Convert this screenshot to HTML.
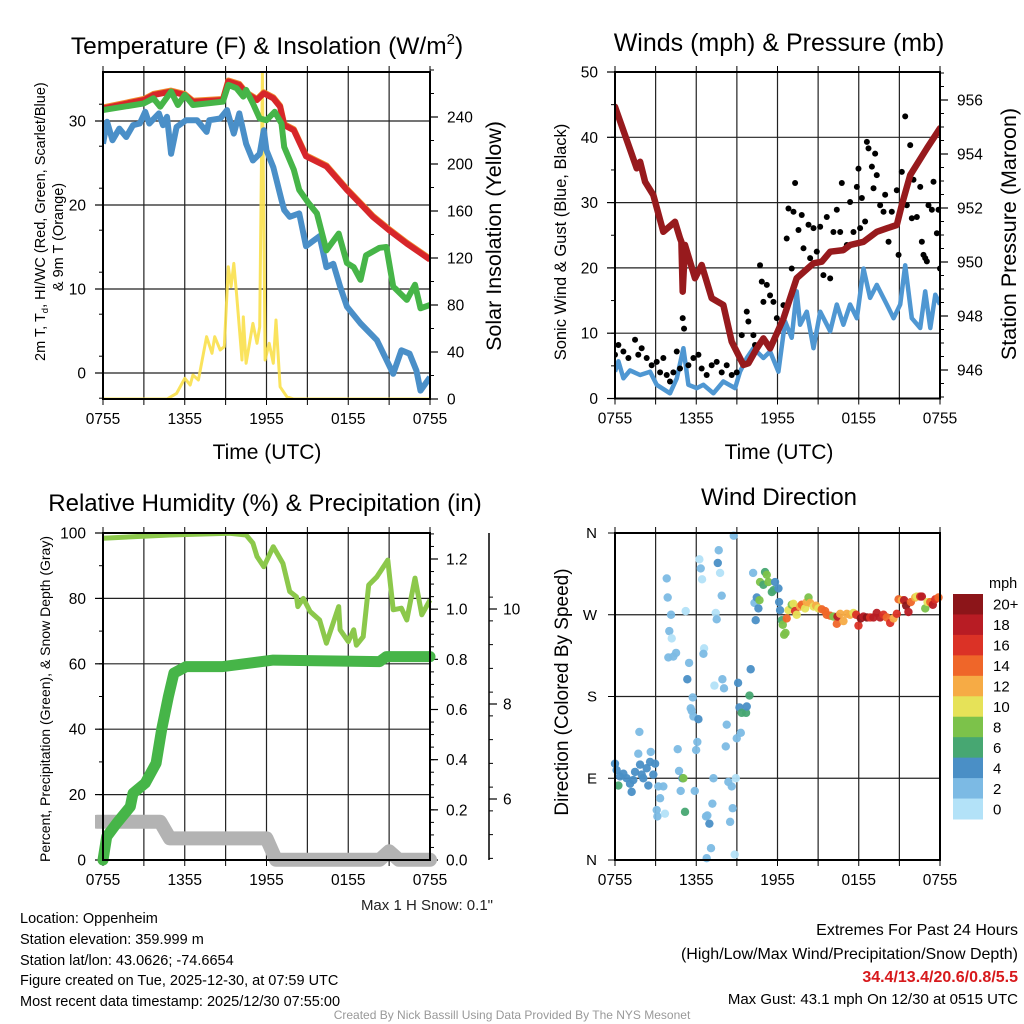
<!DOCTYPE html>
<html><head><meta charset="utf-8"><style>
html,body{margin:0;padding:0;background:#fff;}
svg{display:block;font-family:"Liberation Sans",Arial,sans-serif;}
</style></head><body>
<svg id="chart" width="1024" height="1024" viewBox="0 0 1024 1024" xmlns="http://www.w3.org/2000/svg">
<rect x="0" y="0" width="1024" height="1024" fill="#fff"/>
<g id="layer"></g>
<!-- titles -->
<text x="267" y="54" font-size="24.5" text-anchor="middle">Temperature (F) &amp; Insolation (W/m<tspan dy="-10" font-size="15">2</tspan><tspan dy="10">)</tspan></text>
<text x="779" y="51" font-size="25" text-anchor="middle">Winds (mph) &amp; Pressure (mb)</text>
<text x="265" y="511" font-size="24" text-anchor="middle">Relative Humidity (%) &amp; Precipitation (in)</text>
<text x="779" y="505" font-size="24" text-anchor="middle">Wind Direction</text>
<text x="267" y="459" font-size="21" text-anchor="middle">Time (UTC)</text>
<text x="779" y="459" font-size="21" text-anchor="middle">Time (UTC)</text>
<text transform="translate(45,361) rotate(-90)" font-size="14.5" text-anchor="start">2m T, T<tspan font-size="9.5" dy="3">d</tspan><tspan dy="-3">, HI/WC (Red, Green, Scarlet/Blue)</tspan></text>
<text transform="translate(63,237) rotate(-90)" font-size="14.5" text-anchor="middle">&amp; 9m T (Orange)</text>
<text transform="translate(501,236) rotate(-90)" font-size="21.5" text-anchor="middle">Solar Insolation (Yellow)</text>
<text transform="translate(566,242) rotate(-90)" font-size="16.5" text-anchor="middle">Sonic Wind &amp; Gust (Blue, Black)</text>
<text transform="translate(1016,234) rotate(-90)" font-size="21.5" text-anchor="middle">Station Pressure (Maroon)</text>
<text transform="translate(50,699) rotate(-90)" font-size="14" text-anchor="middle">Percent, Precipitation (Green), &amp; Snow Depth (Gray)</text>
<text transform="translate(568,692) rotate(-90)" font-size="19" text-anchor="middle">Direction (Colored By Speed)</text>
<text x="493" y="910" font-size="15" text-anchor="end" fill="#222">Max 1 H Snow: 0.1"</text>
<g font-size="14.5" fill="#000">
<text x="20" y="923">Location: Oppenheim</text>
<text x="20" y="944">Station elevation: 359.999 m</text>
<text x="20" y="965">Station lat/lon: 43.0626; -74.6654</text>
<text x="20" y="985">Figure created on Tue, 2025-12-30, at 07:59 UTC</text>
<text x="20" y="1006">Most recent data timestamp: 2025/12/30 07:55:00</text>
</g>
<g text-anchor="end">
<text x="1018" y="935" font-size="16">Extremes For Past 24 Hours</text>
<text x="1018" y="959" font-size="16">(High/Low/Max Wind/Precipitation/Snow Depth)</text>
<text x="1018" y="982" font-size="16" font-weight="bold" fill="#d7191c">34.4/13.4/20.6/0.8/5.5</text>
<text x="1018" y="1004" font-size="15">Max Gust: 43.1 mph On 12/30 at 0515 UTC</text>
</g>
<text x="512" y="1019" font-size="12" fill="#999" text-anchor="middle">Created By Nick Bassill Using Data Provided By The NYS Mesonet</text>
</svg>
<script>
// ---------- DATA ----------
const xTickLabels = ["0755","1355","1955","0155","0755"];
const tempTickLabels = [0,10,20,30];
const solarTickLabels = [0,40,80,120,160,200,240];
const windTickLabels = [0,10,20,30,40,50];
const presTickLabels = [946,948,950,952,954,956];
const pctTickLabels = [0,20,40,60,80,100];
const precipTickLabels = ["0.0","0.2","0.4","0.6","0.8","1.0","1.2"];
const snowTickLabels = [6,8,10];
const dirTickLabels = ["N","E","S","W","N"];
const speedBinLabels = ["20+","18","16","14","12","10","8","6","4","2","0"];

const redHours = [0,3,3.7,5,6,6.6,8.8,9.2,10,10.5,11.3,11.8,12.5,13,13.3,14,14.9,16.4,17.9,19.1,19.8,21,22.3,24];
const redTemps = [31.5,32.5,33.1,33.5,33.1,32.3,32.5,34.7,34.3,33.3,32.5,33.3,32.7,31.7,29.5,28.9,25.8,24.6,21.8,19.8,18.6,17,15.4,13.5];
const greenHours = [0,3,3.7,4.2,5,5.5,6,6.6,8.8,9.2,9.8,10.3,10.5,11,11.5,12,12.6,13.1,13.3,14,14.4,15.1,15.7,16.4,17.3,17.9,18.4,18.9,19.3,20.3,20.8,21.3,22.3,22.9,23.3,24];
const greenTemps = [31.3,32.1,32.7,31.7,33.5,31.9,33.1,31.9,32.3,34.3,33.9,32.9,33.7,32.1,30.3,30.1,31.1,29.7,26.9,24.2,21.8,20.2,19,14.6,16.6,13.1,12.6,11.1,14,14.9,15,10.3,8.7,10.5,7.7,8.1];
const blueHours = [0,0.3,0.7,1.2,1.7,2.2,2.7,3.1,3.4,4.1,4.4,4.7,5,5.4,6.1,6.9,7.6,7.8,8.6,9.1,9.6,10,10.5,11,11.5,11.8,12,12.5,13.1,13.3,13.7,14.4,14.9,15.9,16.4,16.9,17.4,17.9,18.9,20.1,21.3,21.9,22.5,23,23.3,24];
const blueTemps = [27.3,29.9,27.7,29.1,28.1,29.5,29.7,31.1,29.7,30.9,29.5,30.5,26.1,29.3,30.1,30.1,28.7,30.1,30.3,31.3,28.5,30.9,27.3,25.3,26.1,28.9,26.5,24.5,20.6,19.4,18.6,19,15.1,16.3,12.6,13,10.3,7.9,5.9,3.9,-0.1,2.7,2.3,0.3,-2.1,-0.5];
const solarHours = [0,4.7,5.4,6,6.4,6.6,7,7.6,8,8.2,8.6,8.9,9.2,9.4,9.6,9.8,10.2,10.3,10.5,11,11.3,11.5,11.7,11.9,12.2,12.5,12.7,13,13.5,14,24];
const solarValues = [0,0,4.8,17.6,11.9,20.4,16.2,53,38.9,53,41.7,44.5,112.6,95.6,115.4,90,33.2,69.9,30.4,64.3,47.4,61.4,277,33.2,47.4,30.4,67.2,10.4,1.9,0,0];

const presHours = [0,0.74,1.6,1.85,2.22,2.83,3.57,4.43,4.8,4.9,5.0,5.17,5.91,6.4,7.14,8,8.62,9.48,9.85,10.47,10.96,11.45,12.44,13.42,14.66,15.27,15.89,16.87,17.36,18.35,19.33,20.07,20.81,21.18,21.8,23.03,24];
const presValues = [955.75,954.7,953.47,953.71,952.97,952.48,951.12,951.49,950.88,950.75,948.9,950.63,949.4,949.89,948.66,948.41,947.05,946.19,946.25,946.8,947.17,946.8,947.91,949.4,949.95,950.01,950.38,950.44,950.63,950.75,951.12,951.25,951.37,952.11,953.22,954.21,954.95];
const windHours = [0,0.25,0.62,1.11,1.85,2.59,3.08,4.06,4.56,5.05,5.42,6.04,6.53,7.27,8.0,8.87,9.23,9.73,10.22,10.96,11.45,12.07,12.56,13.05,13.42,13.67,14.16,14.66,15.15,15.89,16.38,16.87,17.36,17.86,18.35,18.84,19.33,20.07,20.57,21.06,21.43,21.92,22.54,22.91,23.28,23.65,24];
const windValues = [4.1,5.7,3.1,4.3,3.6,4.1,2.1,0.8,3.1,7.7,2.1,1.6,2.1,0.8,2.6,1.6,4.1,6.2,7.7,6.2,7.2,4.1,11.8,9.3,16.4,11.3,13.3,7.7,13.3,10.3,14.4,11.3,14.4,12.3,19.9,15.4,17.4,14.4,12.3,14.4,20.4,12.3,10.8,16.4,10.8,15.9,14.4];
const gustHours = [0,.25,.62,.99,1.48,1.72,1.97,2.34,2.71,3.08,3.33,3.57,3.82,4.06,4.31,4.56,4.8,5.0,5.1,5.42,5.79,6.16,6.4,6.77,7.14,7.51,7.88,8.25,8.62,8.99,9.36,9.73,9.85,10.22,10.34,10.71,10.84,10.96,11.21,11.45,11.7,11.95,12.19,12.44,12.68,12.81,13.05,13.18,13.3,13.55,13.79,13.92,14.29,14.41,14.66,14.9,15.15,15.39,15.64,15.89,16.13,16.38,16.63,16.75,17.12,17.36,17.61,17.86,17.98,18.1,18.23,18.47,18.6,18.72,18.97,19.09,19.21,19.33,19.58,19.83,19.95,20.2,20.44,20.81,20.94,21.18,21.43,21.55,21.8,21.92,22.04,22.29,22.54,22.66,22.78,22.91,23.03,23.15,23.4,23.52,23.77,23.89,24];
const gustMph = [6.7,8.2,7.2,6.2,9.0,6.7,7.7,6.2,5.1,5.6,4.0,6.2,3.6,2.6,4.0,7.2,4.6,12.3,10.7,5.1,6.2,6.7,4.6,3.6,5.1,5.6,4.0,5.1,3.6,4.0,9.7,13.3,11.8,9.7,8.2,20.4,17.9,14.8,17.4,15.8,14.8,12.3,11.3,14.3,24.5,29.1,19.9,28.6,33.0,25.8,28.1,23.0,26.6,21.5,26.1,22.5,26.3,18.9,27.8,18.4,25.5,28.9,25.5,33.0,23.5,30.1,25.5,32.4,35.2,26.1,30.7,27.1,39.3,38.3,35.5,32.2,37.5,34.2,29.6,28.6,31.2,24.0,28.6,31.9,22.0,34.7,43.2,29.6,38.8,27.6,33.5,27.8,32.4,24.0,22.0,21.5,21.0,29.6,28.9,33.2,25.3,28.9,19.9];

const rhHours = [0,4.9,9.3,10.5,11,11.3,11.8,12.5,13.2,13.7,14.2,14.3,14.7,15.2,15.9,16.4,17.3,17.4,18,18.4,18.6,19.1,19.5,20.1,20.9,21.3,21.9,22.3,22.9,23.4,24];
const rhValues = [98.4,99.4,99.9,99.4,96.9,92.8,89.7,95.8,90.7,82.1,80.5,77.5,80,76,73.4,66.3,77.5,70.4,66.8,70.4,65.7,68.3,84.1,86.6,91.7,76.5,77,73.4,86.2,75,79.5];
const precipHours = [0,0.27,1,2,2.2,3.1,3.9,4.3,4.8,5.2,6.1,8.8,12.5,20.3,20.8,24];
const precipValues = [0,0.093,0.146,0.213,0.266,0.306,0.386,0.519,0.652,0.745,0.771,0.771,0.797,0.791,0.811,0.811];
const snowHours = [-0.45,4.2,4.9,12,12.7,20.3,21,21.7,24];
const snowValues = [5.52,5.52,5.17,5.17,4.72,4.72,4.9,4.72,4.72];

const dirHours = [0,.12,.25,.37,.62,.86,1.11,1.23,1.35,1.48,1.72,1.85,1.97,2.09,2.34,2.46,2.59,2.64,2.83,1.8,2.96,3.2,3.33,3.57,3.08,3.13,3.69,3.82,3.89,4.14,4.01,4.19,3.94,4.31,4.51,4.63,4.73,4.85,4.98,5.05,5.17,5.22,5.47,5.34,5.74,5.59,5.67,5.79,6.16,6.08,5.99,6.23,6.33,6.43,6.58,6.53,5.89,6.72,6.82,6.97,7.19,7.09,6.77,7.27,7.34,7.44,7.51,7.59,7.66,7.76,7.88,7.93,8.05,8.25,8.18,8.37,8.62,8.5,8.69,8.84,8.77,8.92,8.99,9.09,9.19,9.29,9.36,9.68,9.73,9.93,10.02,10.2,10.3,10.39,10.59,10.47,10.67,10.71,10.96,11.08,11.21,11.33,11.58,11.7,11.82,12.07,12.12,12.19,12.32,12.39,12.49,12.59,
12.68,12.81,13.05,13.18,13.3,13.42,13.67,13.79,14.04,14.16,14.29,14.41,14.66,14.85,15.02,15.27,15.52,15.64,15.89,16.13,16.38,16.43,16.63,16.87,17.12,17.36,17.61,17.81,17.98,18.15,18.35,18.6,18.84,19.09,19.33,19.58,19.83,20.07,20.32,20.57,20.81,20.94,21.18,21.35,21.5,21.67,21.85,22.17,22.29,22.54,22.66,22.91,23.08,23.28,23.47,23.65,23.89,24.1];
const dirDegrees = [106,99,82,92,95,90,84,75,88,97,117,105,94,90,101,82,108,119,94,141,106,81,68,81,55,48,51,310,289,270,252,244,223,224,228,122,98,76,90,90,53,274,217,199,179,167,164,158,155,130,121,331,321,309,233,227,76,48,49,40,62,13,2,90,192,272,265,327,341,316,291,199,189,149,125,86,81,42,57,6,357,90,134,195,168,140,162,162,169,181,210,316,283,264,277,289,286,306,303,317,314,306,295,297,306,299,284,275,264,259,248,250,
266,275,281,282,274,270,279,281,277,284,289,283,279,280,277,276,274,270,269,268,260,268,271,263,271,270,272,270,258,266,268,267,267,267,272,267,270,267,261,266,271,287,286,286,280,273,284,289,290,290,290,277,284,284,281,287,289];
const dirSpeeds = [4,4,7,4,4,4,4,4,4,4,3,4,4,4,4,4,4,3,4,3,4,3,3,3,3,3,1,3,3,2,2,1,3,3,3,3,3,3,4,9,6,1,3,4,3,3,3,2,4,3,3,1,2,1,1,3,2,3,3,4,3,3,3,2,1,1,3,4,3,1,3,3,3,3,3,3,3,3,3,1,3,1,2,4,4,3,6,6,4,6,4,3,3,4,4,4,9,9,6,6,9,9,6,6,5,4,4,4,6,9,9,9,
14,10,8,11,17,10,12,15,10,13,9,12,11,12,10,15,14,15,14,8,14,18,12,13,12,13,10,17,17,20,19,20,17,18,19,18,17,15,17,13,17,15,13,19,20,18,15,13,11,17,18,9,10,14,19,16,15,13];

// ---------- HELPERS ----------
const NS = "http://www.w3.org/2000/svg";
const layer = document.getElementById('layer');
function mk(tag, attrs, parent){
  const e = document.createElementNS(NS, tag);
  for (const k in attrs) e.setAttribute(k, attrs[k]);
  (parent || layer).appendChild(e);
  return e;
}
function lineScale(d0, d1, r0, r1){ return v => r0 + (v - d0) * (r1 - r0) / (d1 - d0); }
function pathFrom(xs, ys, fx, fy){
  let d = "";
  for (let i = 0; i < xs.length; i++) d += (i ? "L" : "M") + fx(xs[i]).toFixed(1) + " " + fy(ys[i]).toFixed(1);
  return d;
}
function clipRect(id, x0, y0, x1, y1){
  const cp = mk('clipPath', {id: id});
  mk('rect', {x: x0, y: y0, width: x1 - x0, height: y1 - y0}, cp);
}
function txt(x, y, s, size, anchor, parent){
  const t = mk('text', {x: x, y: y, 'font-size': size, 'text-anchor': anchor || 'middle'}, parent);
  t.textContent = s;
  return t;
}
function frame(name, x0, y0, x1, y1, fx, gridH){
  const g = mk('g', {});
  
  
  for (let h = 3; h < 24; h += 3) {
    const l = mk('line', {x1: fx(h), x2: fx(h), y1: y0, y2: y1, stroke: '#222', 'stroke-width': 1.2}, g);
    
    
  }
  gridH.forEach(y => {
    const l = mk('line', {x1: x0, x2: x1, y1: y, y2: y, stroke: '#222', 'stroke-width': 1.2}, g);
    
    
  });
  for (let h = 0; h <= 24; h += 3) {
    mk('line', {x1: fx(h), x2: fx(h), y1: y1, y2: y1 + 6, stroke: '#000', 'stroke-width': 1}, g);
    mk('line', {x1: fx(h), x2: fx(h), y1: y0, y2: y0 - 6, stroke: '#000', 'stroke-width': 1}, g);
  }
  xTickLabels.forEach((s, i) => {
    const t = txt(fx(i * 6), y1 + 25, s, 15.5, 'middle', g);
    
    
  });
  return g;
}
function border(name, x0, y0, x1, y1){
  const r = mk('rect', {x: x0, y: y0, width: x1 - x0, height: y1 - y0, fill: 'none', stroke: '#000', 'stroke-width': 2});
  
  
}
function yAxisTicks(name, x, side, vals, fy, labels, lx, minorStep, d0, d1){
  const g = mk('g', {});
  
  
  const dir = side === 'left' ? -1 : 1;
  if (minorStep) for (let v = d0; v <= d1 + 1e-9; v += minorStep) {
    mk('line', {x1: x, x2: x + dir * 4, y1: fy(v), y2: fy(v), stroke: '#000', 'stroke-width': 1}, g);
  }
  vals.forEach((v, i) => {
    mk('line', {x1: x, x2: x + dir * 8, y1: fy(v), y2: fy(v), stroke: '#000', 'stroke-width': 1.2}, g);
    const t = txt(lx, fy(v) + 5.5, labels[i], 15.5, side === 'left' ? 'end' : 'start', g);
    
    
  });
}

// ---------- PANEL 1: temperature ----------
{
  const x0 = 103, x1 = 430, y0 = 72, y1 = 399;
  const fx = lineScale(0, 24, x0, x1);
  const fT = lineScale(0, 30, 373, 121);
  const fS = lineScale(0, 240, 399, 117);
  clipRect('c1', x0, y0, x1, y1);
  frame('temperature-panel', x0, y0, x1, y1, fx, tempTickLabels.map(fT));
  yAxisTicks('temp-axis', x0, 'left', tempTickLabels, fT, tempTickLabels, 86, 5, -3, 35);
  yAxisTicks('solar-axis', x1, 'right', solarTickLabels, fS, solarTickLabels, 447, 20, 0, 280);
  const g = mk('g', {'clip-path': 'url(#c1)'});
  
  
  let p = mk('path', {d: pathFrom(solarHours, solarValues, fx, fS), fill: 'none', stroke: '#f9e04b', 'stroke-width': 3, 'stroke-linejoin': 'round', opacity: 0.9}, g);
  
  
  p = mk('path', {d: pathFrom(blueHours, blueTemps, fx, fT), fill: 'none', stroke: '#4a8fc8', 'stroke-width': 6, 'stroke-linejoin': 'round'}, g);
  
  
  p = mk('path', {d: pathFrom(redHours, redTemps, fx, v => fT(v) - 1), fill: 'none', stroke: '#f08a2c', 'stroke-width': 6, 'stroke-linejoin': 'round'}, g);
  
  
  p = mk('path', {d: pathFrom(redHours, redTemps, fx, fT), fill: 'none', stroke: '#d7262a', 'stroke-width': 6, 'stroke-linejoin': 'round'}, g);
  
  
  p = mk('path', {d: pathFrom(greenHours, greenTemps, fx, fT), fill: 'none', stroke: '#46b548', 'stroke-width': 6, 'stroke-linejoin': 'round'}, g);
  
  
  border('temperature-panel', x0, y0, x1, y1);
}

// ---------- PANEL 2: wind & pressure ----------
{
  const x0 = 615, x1 = 940, y0 = 72, y1 = 398.5;
  const fx = lineScale(0, 24, x0, x1);
  const fW = lineScale(0, 50, 398.5, 72);
  const fP = lineScale(946, 956, 370, 100);
  clipRect('c2', x0, y0, x1, y1);
  frame('wind-panel', x0, y0, x1, y1, fx, [10, 20, 30, 40].map(fW));
  yAxisTicks('wind-axis', x0, 'left', windTickLabels, fW, windTickLabels, 598, 5, 0, 50);
  yAxisTicks('pressure-axis', x1, 'right', presTickLabels, fP, presTickLabels, 957, 0.5, 945, 957);
  const g = mk('g', {'clip-path': 'url(#c2)'});
  
  
  let p = mk('path', {d: pathFrom(windHours, windValues, fx, fW), fill: 'none', stroke: '#4f97d2', 'stroke-width': 4.5, 'stroke-linejoin': 'round'}, g);
  
  
  for (let i = 0; i < gustHours.length; i++) {
    const c = mk('circle', {cx: fx(gustHours[i]), cy: fW(gustMph[i]), r: 3, fill: '#000'}, g);
    
    
  }
  p = mk('path', {d: pathFrom(presHours, presValues, fx, fP), fill: 'none', stroke: '#971a1d', 'stroke-width': 6.5, 'stroke-linejoin': 'round', 'stroke-linecap': 'round'}, g);
  
  
  border('wind-panel', x0, y0, x1, y1);
}

// ---------- PANEL 3: humidity & precipitation ----------
{
  const x0 = 103, x1 = 430, y0 = 533, y1 = 860;
  const fx = lineScale(0, 24, x0, x1);
  const fPct = lineScale(0, 100, 860, 533);
  const fPr = lineScale(0, 1.2, 860, 559);
  const fSn = lineScale(6, 10, 799, 609);
  clipRect('c3', x0 - 8, y0, x1 + 8, y1 + 8);
  frame('humidity-panel', x0, y0, x1, y1, fx, [20, 40, 60, 80].map(fPct));
  yAxisTicks('percent-axis', x0, 'left', pctTickLabels, fPct, pctTickLabels, 86, 10, 0, 100);
  yAxisTicks('precip-axis', x1, 'right', [0, 0.2, 0.4, 0.6, 0.8, 1.0, 1.2], fPr, precipTickLabels, 446, 0.05, 0, 1.3);
  mk('line', {x1: 489, x2: 489, y1: y0, y2: y1, stroke: '#000', 'stroke-width': 1.5});
  yAxisTicks('snow-axis', 489, 'right', snowTickLabels, fSn, snowTickLabels, 503, 0.5, 4.75, 10.5);
  const g = mk('g', {'clip-path': 'url(#c3)'});
  
  
  let p = mk('path', {d: pathFrom(snowHours, snowValues, fx, fSn), fill: 'none', stroke: '#b3b3b3', 'stroke-width': 14, 'stroke-linejoin': 'round', 'stroke-linecap': 'round'}, g);
  
  
  p = mk('path', {d: pathFrom(rhHours, rhValues, fx, fPct), fill: 'none', stroke: '#8cc84b', 'stroke-width': 5, 'stroke-linejoin': 'round'}, g);
  
  
  p = mk('path', {d: pathFrom(precipHours, precipValues, fx, fPr), fill: 'none', stroke: '#46b548', 'stroke-width': 11, 'stroke-linejoin': 'round', 'stroke-linecap': 'round'}, g);
  
  
  border('humidity-panel', x0, y0, x1, y1);
}

// ---------- PANEL 4: wind direction ----------
{
  const x0 = 615, x1 = 940, y0 = 533, y1 = 860;
  const fx = lineScale(0, 24, x0, x1);
  const fD = lineScale(0, 360, 860, 533);
  const binColors = ["#b3e2f8","#7cbae4","#4a8fc6","#47a772","#7cc24a","#e6e258","#f6ab45","#ef6629","#db3226","#b81c24","#8c1519"];
  clipRect('c4', x0 - 6, y0 - 6, x1 + 6, y1 + 6);
  frame('direction-panel', x0, y0, x1, y1, fx, [90, 180, 270].map(fD));
  const g0 = mk('g', {});
  
  
  dirTickLabels.forEach((s, i) => {
    mk('line', {x1: x0, x2: x0 - 7, y1: fD(i * 90), y2: fD(i * 90), stroke: '#000'}, g0);
    const t = txt(597, fD(i * 90) + 5, s, 15, 'end', g0);
    
    
  });
  const g = mk('g', {'clip-path': 'url(#c4)'});
  
  
  for (let i = 0; i < dirHours.length; i++) {
    const bin = Math.min(10, Math.floor(dirSpeeds[i] / 2));
    const c = mk('circle', {cx: fx(dirHours[i]), cy: fD(dirDegrees[i]), r: 4.2, fill: binColors[bin], opacity: 0.95}, g);
    
    
  }
  border('direction-panel', x0, y0, x1, y1);
  // colorbar
  const cb = mk('g', {});
  
  
  const t0 = txt(989, 588, 'mph', 14.5, 'start', cb);
  
  
  const bh = (819 - 594) / 11;
  speedBinLabels.forEach((s, i) => {
    const r = mk('rect', {x: 953, y: 594 + i * bh, width: 30, height: bh + 0.5, fill: binColors[10 - i]}, cb);
    
    
    const t = txt(993, 594 + i * bh + bh / 2 + 5.5, s, 15, 'start', cb);
    
    
  });
}
</script>
</body></html>
